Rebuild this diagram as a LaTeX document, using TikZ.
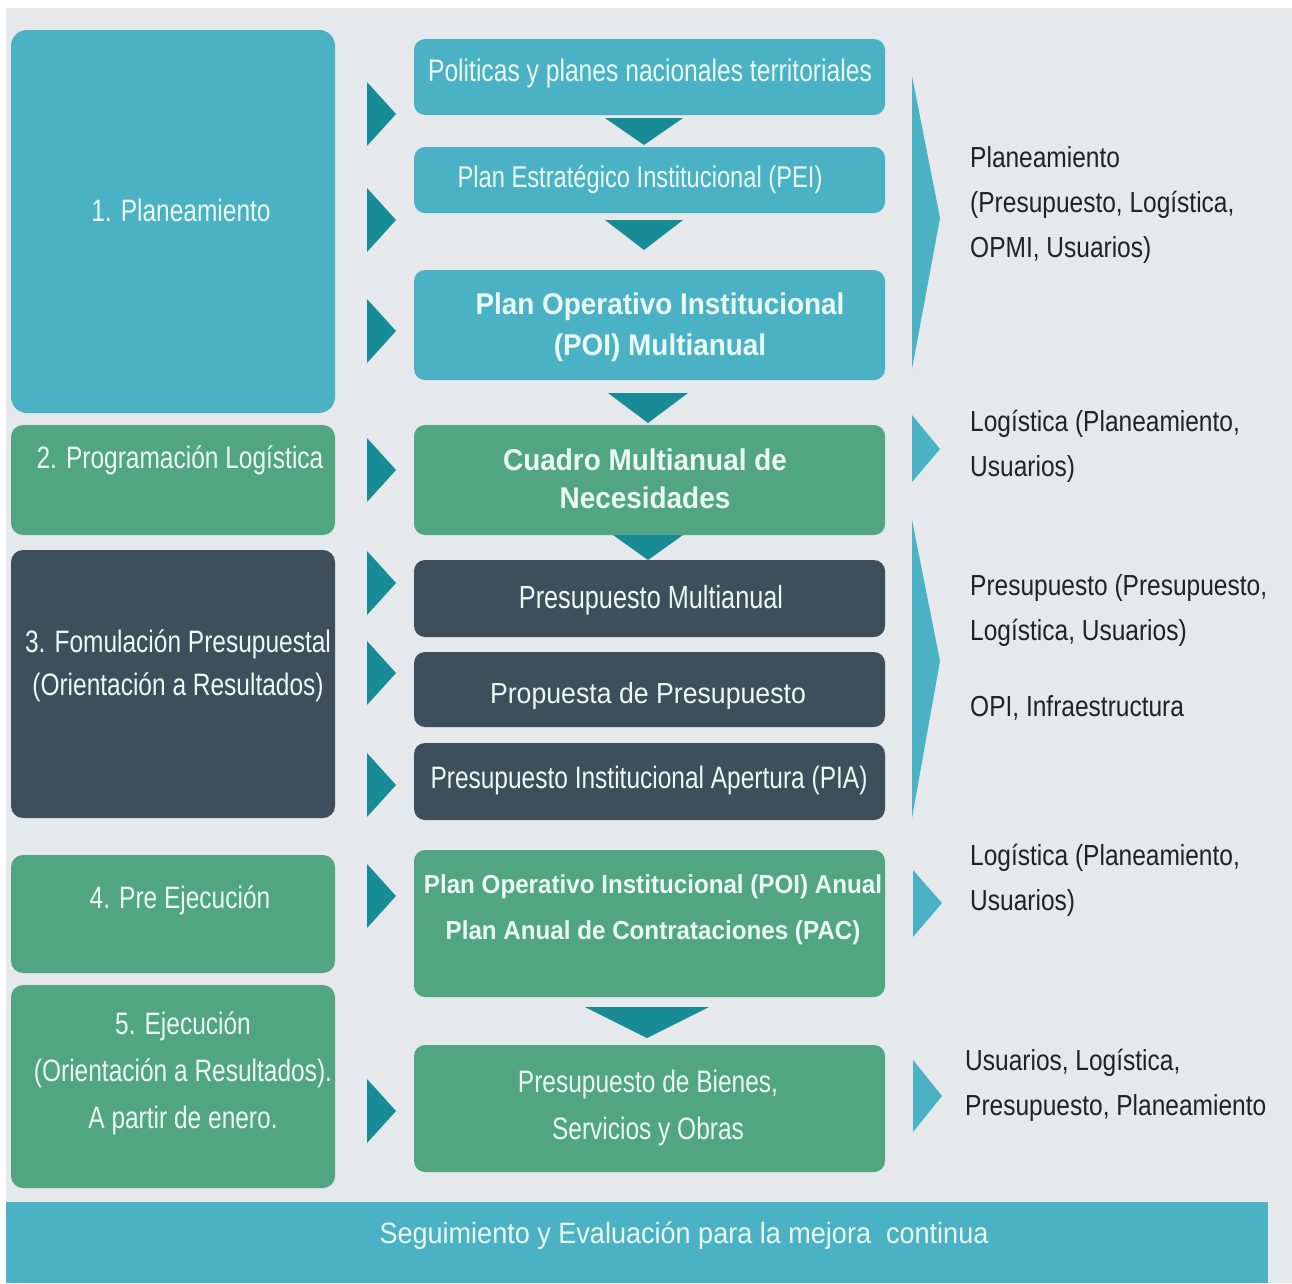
\documentclass[tikz,border=0pt]{standalone}
\usepackage{fontspec}
\setmainfont{Liberation Sans}
\newfontfamily\nar[FakeStretch=0.79]{Liberation Sans}
\newfontfamily\rtf[FakeStretch=0.845]{Liberation Sans}
\newfontfamily\boldf[FakeStretch=0.93]{Liberation Sans}
\newfontfamily\wide[FakeStretch=0.92]{Liberation Sans}
\definecolor{bggray}{RGB}{229,233,235}
\definecolor{cblue}{RGB}{74,178,196}
\definecolor{cgreen}{RGB}{82,165,130}
\definecolor{cdark}{RGB}{62,79,91}
\definecolor{ctri}{RGB}{24,140,150}
\definecolor{cmint}{RGB}{234,250,244}
\definecolor{rtext}{RGB}{34,34,34}
\tikzset{
  lbox/.style={rectangle, rounded corners=16pt, minimum width=324pt, inner sep=0pt},
  mbox/.style={rectangle, rounded corners=11pt, minimum width=471pt, inner sep=0pt},
  btxt/.style={text=cmint, font=\nar\fontsize{31}{43}\selectfont, align=center, inner sep=0pt},
  bbold/.style={text=cmint, font=\boldf\bfseries\fontsize{30}{41}\selectfont, align=center, inner sep=0pt},
  rtxt/.style={text=rtext, font=\rtf\fontsize{29}{45}\selectfont, align=left, anchor=west, inner sep=0pt},
  tri/.style={fill=ctri},
  bigarr/.style={fill=cblue}
}
\newcommand\rtri[1]{\fill[tri] (367,{#1-32}) -- (396,#1) -- (367,{#1+32}) -- cycle;}
\begin{document}
\begin{tikzpicture}[x=1pt,y=-1pt]
\useasboundingbox (0,0) rectangle (1292,1283);
\fill[white] (0,0) rectangle (1292,1283);
\fill[bggray] (6,8) rectangle (1292,1283);

% left column boxes
\node[lbox, fill=cblue,  minimum height=383pt] (L1) at (173,221.5) {};
\node[lbox, fill=cgreen, minimum height=110pt, rounded corners=12pt] (L2) at (173,480) {};
\node[lbox, fill=cdark,  minimum height=268pt, rounded corners=12pt] (L3) at (173,684) {};
\node[lbox, fill=cgreen, minimum height=118pt, rounded corners=12pt] (L4) at (173,914) {};
\node[lbox, fill=cgreen, minimum height=203pt, rounded corners=12pt] (L5) at (173,1086.5) {};

\node[btxt] (L1t) at (181,210) {1. Planeamiento};
\node[btxt] (L2t) at (180,460) {2. Programación Logística};
\node[btxt] (L3t) at (178,666) {3. Fomulación Presupuestal\\(Orientación a Resultados)};
\node[btxt] (L4t) at (180,900) {4. Pre Ejecución};
\node[btxt, font=\nar\fontsize{31}{47}\selectfont] (L5t) at (183,1073) {5. Ejecución\\(Orientación a Resultados).\\A partir de enero.};

% middle column boxes
\node[mbox, fill=cblue,  minimum height=76pt]  (M1) at (649.5,77) {};
\node[mbox, fill=cblue,  minimum height=66pt]  (M2) at (649.5,180) {};
\node[mbox, fill=cblue,  minimum height=110pt] (M3) at (649.5,325) {};
\node[mbox, fill=cgreen, minimum height=110pt] (M4) at (649.5,480) {};
\node[mbox, fill=cdark,  minimum height=77pt]  (M5) at (649.5,598.5) {};
\node[mbox, fill=cdark,  minimum height=75pt]  (M6) at (649.5,689.5) {};
\node[mbox, fill=cdark,  minimum height=77pt]  (M7) at (649.5,781.5) {};
\node[mbox, fill=cgreen, minimum height=147pt] (M8) at (649.5,923.5) {};
\node[mbox, fill=cgreen, minimum height=127pt] (M9) at (649.5,1108.5) {};

\node[btxt, font=\nar\fontsize{31.2}{43}\selectfont] (M1t) at (650,73) {Politicas y planes nacionales territoriales};
\node[btxt, font=\nar\fontsize{30}{43}\selectfont] (M2t) at (640,180) {Plan Estratégico Institucional (PEI)};
\node[bbold] (M3t) at (660,327) {Plan Operativo Institucional\\(POI) Multianual};
\node[bbold, font=\boldf\bfseries\fontsize{30}{38}\selectfont] (M4t) at (645,479) {Cuadro Multianual de\\Necesidades};
\node[btxt, font=\nar\fontsize{32}{43}\selectfont] (M5t) at (651,600) {Presupuesto Multianual};
\node[btxt, font=\wide\fontsize{29}{40}\selectfont] (M6t) at (648,696) {Propuesta de Presupuesto};
\node[btxt, font=\nar\fontsize{31}{43}\selectfont] (M7t) at (649,780) {Presupuesto Institucional Apertura (PIA)};
\node[bbold, font=\boldf\bfseries\fontsize{26}{46}\selectfont] (M8t) at (653,910) {Plan Operativo Institucional (POI) Anual\\Plan Anual de Contrataciones (PAC)};
\node[btxt, font=\nar\fontsize{31}{47}\selectfont] (M9t) at (648,1108) {Presupuesto de Bienes,\\Servicios y Obras};

% banner
\node[rectangle, fill=cblue, minimum width=1262pt, minimum height=81pt, inner sep=0pt] (B) at (637,1242.5) {};
\node[btxt, font=\wide\fontsize{29.4}{43}\selectfont] (Bt) at (684,1236) {Seguimiento y Evaluación para la mejora\ \ continua};

% right texts
\node[rtxt] (R1) at (970,205) {Planeamiento\\(Presupuesto, Logística,\\OPMI, Usuarios)};
\node[rtxt] (R2) at (970,446) {Logística (Planeamiento,\\Usuarios)};
\node[rtxt] (R3) at (970,610) {Presupuesto (Presupuesto,\\Logística, Usuarios)};
\node[rtxt] (R3b) at (970,708) {OPI, Infraestructura};
\node[rtxt] (R4) at (970,880) {Logística (Planeamiento,\\Usuarios)};
\node[rtxt] (R5) at (965,1085) {Usuarios, Logística,\\Presupuesto, Planeamiento};

% down triangles between middle boxes
\fill[tri] (605,118) -- (683,118) -- (644,145) -- cycle;
\fill[tri] (605,220) -- (683,220) -- (644,250) -- cycle;
\fill[tri] (608,393) -- (688,393) -- (648,423) -- cycle;
\fill[tri] (613,535) -- (683,535) -- (648,560) -- cycle;
\fill[tri] (585,1007) -- (709,1007) -- (647,1038) -- cycle;

% right-pointing triangles between columns
\rtri{114}\rtri{220}\rtri{331}\rtri{470}\rtri{583}\rtri{673}\rtri{785}\rtri{896}\rtri{1111}

% big arrows toward the right texts
\fill[bigarr] (912,76) -- (940,218) -- (912,369) -- cycle;
\fill[bigarr] (912,415) -- (940,449) -- (912,482) -- cycle;
\fill[bigarr] (912,520) -- (940,661) -- (912,818) -- cycle;
\fill[bigarr] (913,870) -- (942,903) -- (913,937) -- cycle;
\fill[bigarr] (913,1060) -- (942,1096) -- (913,1132) -- cycle;
\end{tikzpicture}
\end{document}
